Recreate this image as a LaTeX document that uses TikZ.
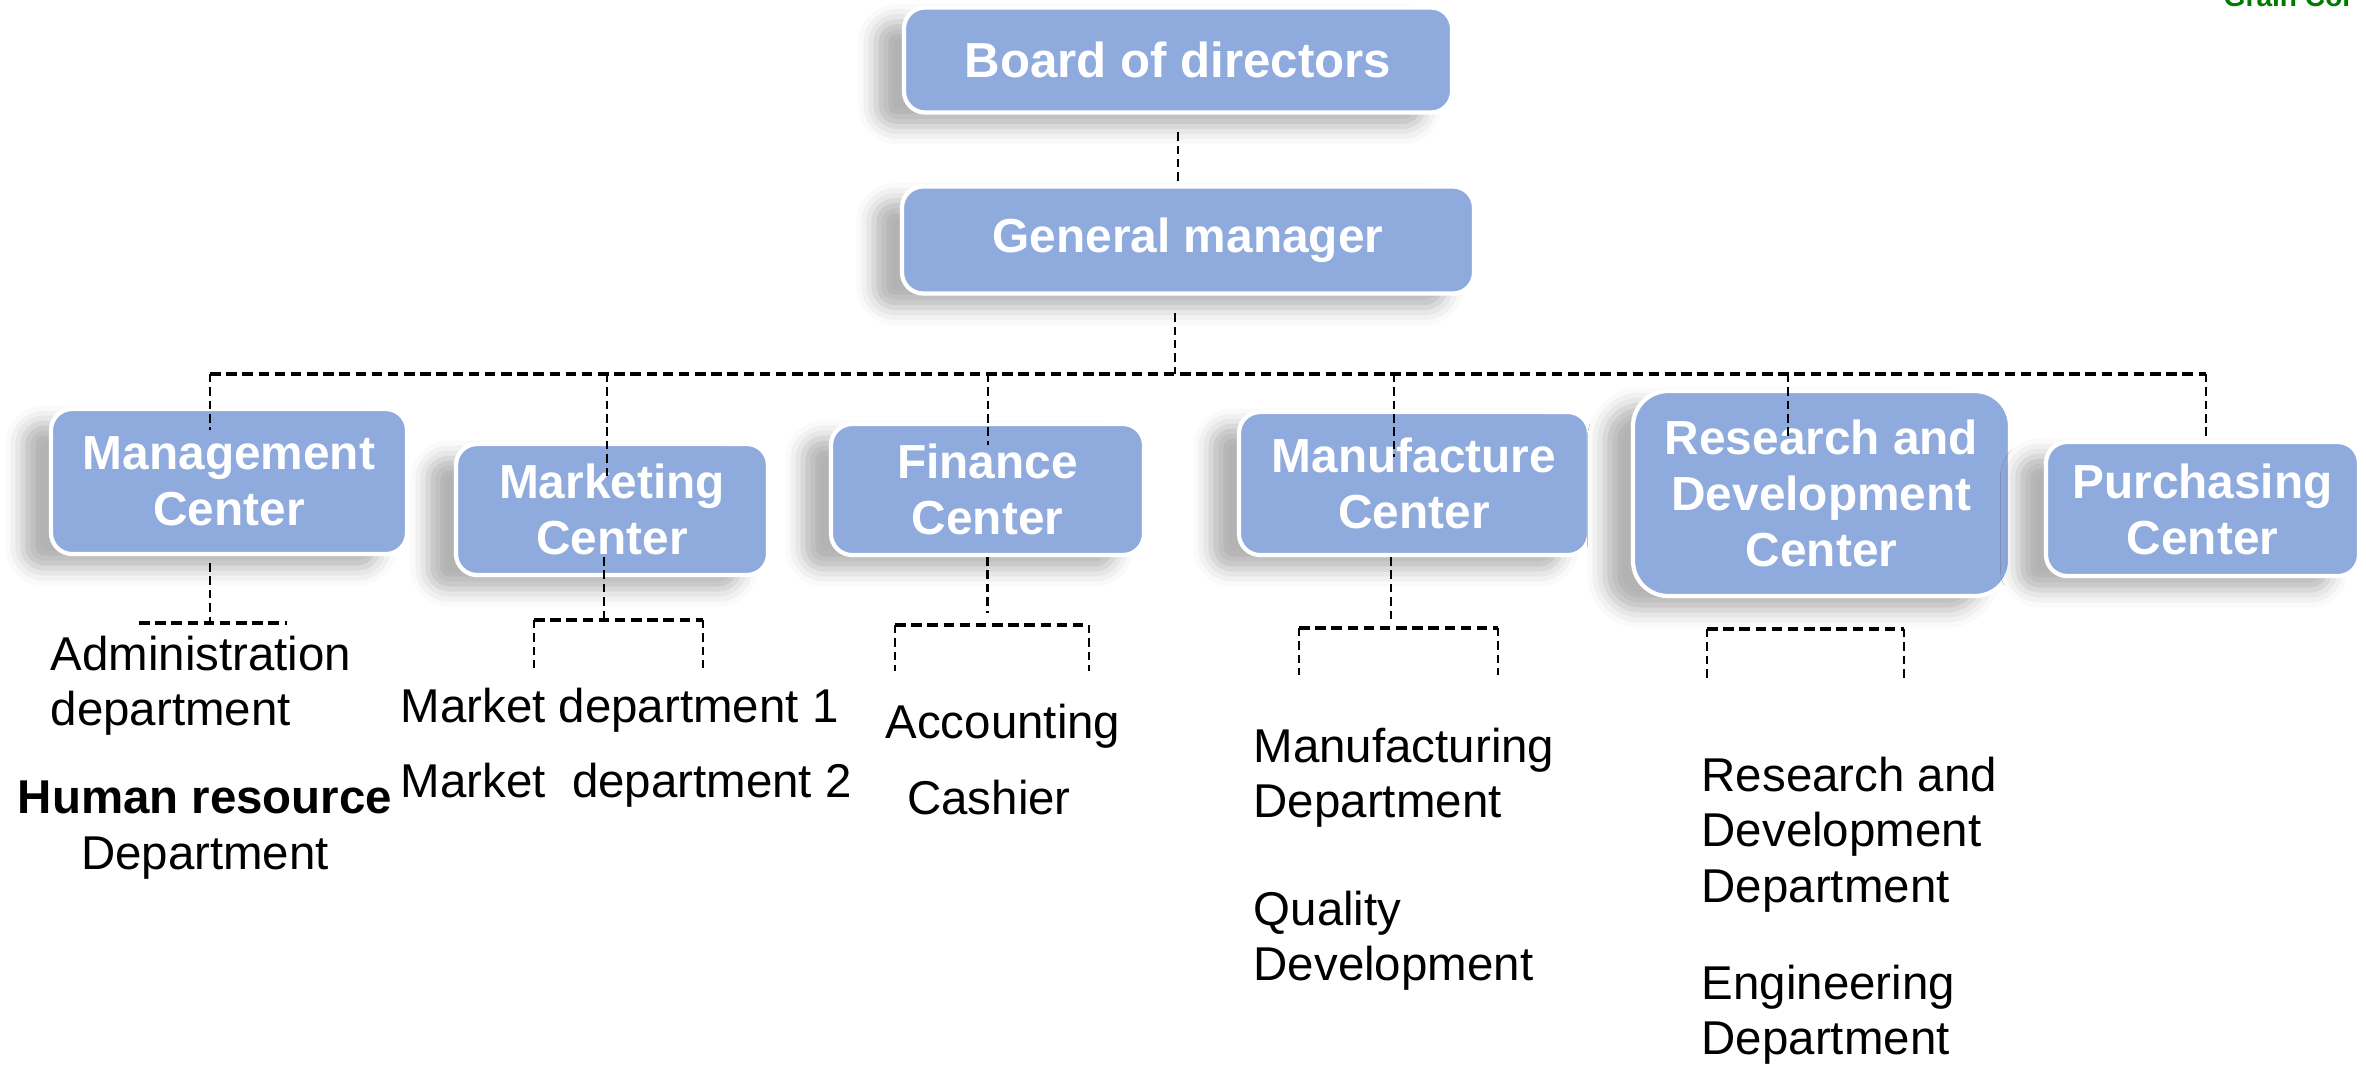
\documentclass[tikz,border=0pt]{standalone}
\usepackage{fontspec}
\setmainfont{Liberation Sans}
\usetikzlibrary{shadows.blur}
\definecolor{boxblue}{HTML}{8FAADC}
\definecolor{labelgreen}{HTML}{007A00}

\begin{document}
\begin{tikzpicture}[
    center/.style={rectangle, rounded corners=6pt, fill=boxblue, draw=white, line width=1.2pt,
      text=white, align=center, font=\fontsize{13.6}{15.9}\selectfont\bfseries,
      blur shadow={shadow xshift=-8pt, shadow yshift=-4pt, shadow blur radius=5pt, shadow opacity=30}},
    dept/.style={inner sep=0pt, font=\fontsize{13.5}{15.9}\selectfont},
    link/.style={line width=0.6pt, dash pattern=on 2.4pt off 1.4pt},
    bar/.style={line width=0.9pt, dash pattern=on 3pt off 1.6pt}
  ]
  \useasboundingbox (0,0) rectangle (23.66,-10.64);

  % cut-off title in the corner
  \begin{scope}
    \clip (0,0) rectangle (23.66,-10.64);
    \node[anchor=base west, inner sep=0pt, text=labelgreen, font=\fontsize{8}{9}\selectfont\bfseries] (title) at (22.23,-0.065) {Grain Col};
  \end{scope}

  \node[center, minimum width=5.48cm, minimum height=1.05cm, font=\fontsize{14}{16}\selectfont\bfseries] (board) at (11.78,-0.60) {Board of directors};
  \node[center, minimum width=5.72cm, minimum height=1.07cm] (gm) at (11.88,-2.40) {General manager};

  \node[center, minimum width=3.56cm, minimum height=1.45cm] (mgmt) at (2.29,-4.815) {Management\\Center};
  \node[center, minimum width=3.12cm, minimum height=1.31cm] (mkt) at (6.12,-5.095) {Marketing\\Center};
  \node[center, minimum width=3.13cm, minimum height=1.31cm] (fin) at (9.875,-4.895) {Finance\\Center};
  \node[center, minimum width=3.50cm, minimum height=1.43cm] (manu) at (14.14,-4.835) {Manufacture\\Center};
  \node[center, minimum width=3.77cm, minimum height=2.05cm, rounded corners=10pt] (rnd) at (18.215,-4.935) {Research and\\Development\\Center};
  \node[center, minimum width=3.13cm, minimum height=1.34cm] (pur) at (22.025,-5.09) {Purchasing\\Center};

  \draw[link] ([yshift=-5pt]board.south) -- (board.south |- gm.north);

  \coordinate (bus) at (11.75,-3.74);
  \coordinate (busL) at (2.10,-3.74);
  \coordinate (busR) at (22.06,-3.74);
  \draw[link] ([yshift=-5pt]gm.south -| bus) -- (bus);
  \draw[bar] (busL) -- (busR);

  \foreach\name/\x/\e in {mgmt/2.10/-4.30, mkt/6.07/-4.80, fin/9.88/-4.45, manu/13.94/-4.57, rnd/17.88/-4.38, pur/22.06/-4.40}{
    \coordinate (drop\name) at (\x,\e);
    \draw[link] (busL -| drop\name) -- (drop\name);
  }

  % brackets below the centers
  \foreach\name/\l/\r/\y/\leg in {mkt/5.34/7.03/-6.20/0.48, fin/8.95/10.89/-6.25/0.46, manu/12.99/14.98/-6.28/0.47, rnd/17.07/19.04/-6.29/0.50}{
    \coordinate (\name-l) at (\l,\y);
    \coordinate (\name-r) at (\r,\y);
    \draw[bar] (\name-l) -- (\name-r);
    \draw[link] (\name-l) -- ++(0,-\leg);
    \draw[link] (\name-r) -- ++(0,-\leg);
  }
  \coordinate (mgmt-l) at (1.39,-6.23);
  \coordinate (mgmt-r) at (2.87,-6.23);
  \draw[bar] (mgmt-l) -- (mgmt-r);

  \draw[link] ([yshift=-0.07cm]mgmt.south -| busL) -- ++(0,-0.65);
  \draw[link] ([yshift=0.20cm]mkt.south -| mkt-l) ++(0.70,0) -- (mkt-l -| 6.04,0);
  \draw[link] (fin.south) -- ++(0,-0.56);
  \draw[link] ([xshift=-0.23cm]manu.south) -- ++(0,-0.64);

  % departments
  \node[dept, anchor=north west, align=left] (admin) at (0.50,-6.35) {Administration\\department};
  \node[dept, anchor=north, align=center] (hr) at (2.05,-7.80) {{\bfseries Human resource}\\Department};
  \node[dept, anchor=north west] (market1) at (4.00,-6.87) {Market department 1};
  \node[dept, anchor=north west] (market2) at (4.00,-7.62) {Market\ \ department 2};
  \node[dept, anchor=north] (account) at (10.03,-7.03) {Accounting};
  \node[dept, anchor=north] (cashier) at (9.89,-7.79) {Cashier};
  \node[dept, anchor=north west, align=left] (making) at (12.53,-7.27) {Manufacturing\\Department};
  \node[dept, anchor=north west, align=left] (quality) at (12.53,-8.90) {Quality\\Development};
  \node[dept, anchor=north west, align=left] (research) at (17.01,-7.56) {Research and\\Development\\Department};
  \node[dept, anchor=north west, align=left] (engineer) at (17.01,-9.64) {Engineering\\Department};
\end{tikzpicture}
\end{document}
